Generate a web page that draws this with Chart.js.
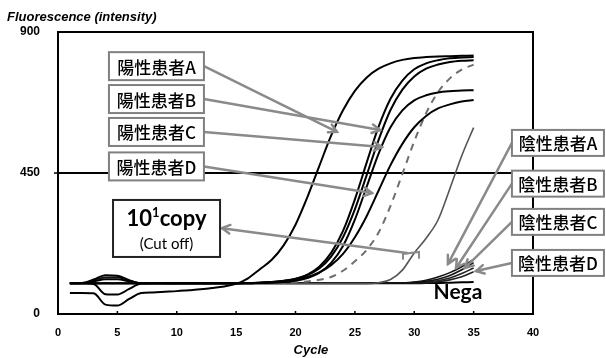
<!DOCTYPE html>
<html>
<head>
<meta charset="utf-8">
<script src="https://cdn.jsdelivr.net/npm/chart.js@4/dist/chart.umd.min.js"></script>
<style>
  html, body { margin: 0; padding: 0; background: #fff; }
  canvas { display: block; }
</style>
</head>
<body>
<canvas id="c" width="606" height="358"></canvas>
<script>
// Real-time PCR amplification curves: fluorescence per cycle
const cycles = [1,2,3,4,5,6,7,8,9,10,11,12,13,14,15,16,17,18,19,20,21,22,23,24,25,26,27,28,29,30,31,32,33,34,35];

const posA = [67,67,66,30,27,48,67,69,71,73,76,79,83,88,96,114,143,173,219,285,373,472,569,650,712,755,783,800,811,817,820,822,823,824,825];
const posB = [98,98,96,63,62,80,97,98,98,98,98,98,98,98,98,99,100,102,106,113,126,151,195,265,366,484,598,687,745,781,800,810,816,819,820];
const posB2 = [98,99,110,124,122,108,98,98,98,97,97,97,98,98,98,99,100,102,105,112,124,145,183,245,334,444,556,651,716,758,783,796,804,808,810];
const posC = [98,98,104,111,111,104,98,98,98,99,99,99,98,98,98,98,99,100,102,106,115,131,163,217,301,407,512,596,650,682,698,707,711,713,714];
const posD = [98,98,98,98,98,98,98,98,98,98,98,98,98,98,98,98,100,102,105,110,118,133,156,192,245,313,394,475,543,596,632,656,669,678,683];
const dilution = [98,98,98,98,98,98,98,98,98,98,98,98,98,98,98,98,98,99,100,101,104,109,118,138,168,205,260,345,447,551,641,708,752,780,796];
const cutoff10 = [97,97,97,97,97,97,97,97,97,97,97,97,97,97,97,97,97,97,97,97,97,97,97,97,97,97,100,110,140,195,242,300,400,505,595];
const negA = [98,99,107,117,117,107,98,98,98,98,98,98,98,98,98,98,98,98,98,98,98,98,98,98,98,98,98,98,99,102,108,118,132,151,174];
const negB = [98,98,98,98,98,98,98,98,98,98,98,98,98,98,98,98,98,98,98,98,98,98,98,98,98,98,98,98,98,100,104,111,123,141,164];
const negC = [99,99,99,99,99,99,99,99,99,99,99,99,99,99,99,99,99,99,99,99,99,99,99,99,99,99,99,99,99,100,102,106,115,129,147];
const negD = [99,99,99,99,99,99,99,99,99,99,99,99,99,99,99,99,99,99,99,99,99,99,99,99,99,99,99,99,99,99,100,103,109,119,135];
const nega = [98,98,98,98,98,98,98,98,98,98,98,98,98,98,98,98,98,98,98,98,98,98,98,98,98,98,98,98,98,98,99,99,100,101,102];

const thresholdValue = 450;
const xTicks = [0,5,10,15,20,25,30,35,40];
const yTicks = [0,450,900];

const SANS = '"Liberation Sans", Arial, sans-serif';
const CJK = '"Noto Sans CJK JP", "Noto Sans CJK SC", sans-serif';
const CAL = 'Lato, "Open Sans", sans-serif';

const toPoints = vals => vals.map((v, i) => ({ x: cycles[i], y: v }));

function curve(label, vals, color, width, dash) {
  return {
    label, data: toPoints(vals),
    borderColor: color, borderWidth: width, borderDash: dash || [],
    pointRadius: 0, fill: false, cubicInterpolationMode: 'monotone'
  };
}

const datasets = [
  curve('陽性患者A', posA, '#000', 2),
  curve('陽性患者B', posB, '#000', 2),
  curve('陽性', posB2, '#000', 2),
  curve('陽性患者C', posC, '#000', 2),
  curve('陽性患者D', posD, '#000', 2),
  curve('希釈系列', dilution, '#6e6e6e', 2, [7, 6]),
  curve('10¹copy', cutoff10, '#555', 1.6),
  curve('陰性患者A', negA, '#111', 1.6),
  curve('陰性患者B', negB, '#111', 1.6),
  curve('陰性患者C', negC, '#222', 1.6),
  curve('陰性患者D', negD, '#222', 1.6),
  curve('Nega', nega, '#000', 2),
  {
    label: 'threshold',
    data: [{ x: 0, y: thresholdValue }, { x: 40, y: thresholdValue }],
    borderColor: '#000', borderWidth: 2, pointRadius: 0, fill: false
  }
];

// Call-out boxes (anchor in cycle / intensity units, arrow tip on the curve)
const leftBoxes = [
  { text: '陽性患者A', at: [8.29, 791], tip: [23.49, 581] },
  { text: '陽性患者B', at: [8.29, 686], tip: [27.12, 587] },
  { text: '陽性患者C', at: [8.29, 581], tip: [27.28, 533] },
  { text: '陽性患者D', at: [8.29, 471], tip: [26.44, 386] }
];
const rightBoxes = [
  { text: '陰性患者A', at: [42.1, 546], tip: [32.84, 160] },
  { text: '陰性患者B', at: [42.1, 416], tip: [33.52, 147] },
  { text: '陰性患者C', at: [42.1, 294], tip: [34.27, 147] },
  { text: '陰性患者D', at: [42.1, 163], tip: [35.2, 137] }
];
const copyBox = { at: [9.14, 273], tail: [29.39, 195], tip: [13.81, 274] };
const negaLabel = [33.68, 70];

function arrow(ctx, x1, y1, x2, y2) {
  ctx.beginPath();
  ctx.moveTo(x1, y1);
  ctx.lineTo(x2, y2);
  ctx.stroke();
  const ang = Math.atan2(y2 - y1, x2 - x1);
  const L = 9, spread = 0.5;
  ctx.beginPath();
  ctx.moveTo(x2 - L * Math.cos(ang - spread), y2 - L * Math.sin(ang - spread));
  ctx.lineTo(x2, y2);
  ctx.lineTo(x2 - L * Math.cos(ang + spread), y2 - L * Math.sin(ang + spread));
  ctx.stroke();
}

const overlay = {
  id: 'overlay',
  afterDatasetsDraw(chart) {
    const { ctx, chartArea: a, scales: { x, y } } = chart;
    const P = d => [x.getPixelForValue(d[0]), y.getPixelForValue(d[1])];
    ctx.save();

    // plot frame
    ctx.strokeStyle = '#000';
    ctx.lineWidth = 2;
    ctx.strokeRect(a.left, a.top, a.right - a.left, a.bottom - a.top);

    // small tick marks
    ctx.lineWidth = 1.5;
    xTicks.slice(1, -1).forEach(v => {
      const px = x.getPixelForValue(v);
      ctx.beginPath(); ctx.moveTo(px, a.bottom); ctx.lineTo(px, a.bottom - 3); ctx.stroke();
    });
    const ty = y.getPixelForValue(thresholdValue);
    ctx.beginPath(); ctx.moveTo(a.left - 4, ty); ctx.lineTo(a.left, ty); ctx.stroke();

    // arrows
    ctx.strokeStyle = '#8a8a8a';
    ctx.lineWidth = 2.5;
    ctx.lineCap = 'round';
    const LW = 95, LH = 28, RW = 92, RH = 26;
    leftBoxes.forEach(b => {
      const [cx, cy] = P(b.at), [tx, tyy] = P(b.tip);
      arrow(ctx, cx + LW / 2, cy, tx, tyy);
    });
    rightBoxes.forEach(b => {
      const [cx, cy] = P(b.at), [tx, tyy] = P(b.tip);
      arrow(ctx, cx - RW / 2, cy, tx, tyy);
    });
    const [bx, by] = P(copyBox.tail), [cx2, cy2] = P(copyBox.tip);
    arrow(ctx, bx, by, cx2, cy2);
    // cut-off bracket on the 10 copy curve
    ctx.lineWidth = 2;
    ctx.beginPath();
    ctx.moveTo(bx - 4, by + 6); ctx.lineTo(bx - 4, by + 1);
    ctx.lineTo(bx + 12, by - 1); ctx.lineTo(bx + 12, by + 5);
    ctx.stroke();

    // boxes
    ctx.lineCap = 'butt';
    const box = (cx, cy, w, h, stroke, lw) => {
      ctx.fillStyle = '#fff';
      ctx.fillRect(cx - w / 2, cy - h / 2, w, h);
      ctx.strokeStyle = stroke; ctx.lineWidth = lw;
      ctx.strokeRect(cx - w / 2, cy - h / 2, w, h);
    };
    ctx.textAlign = 'center';
    ctx.textBaseline = 'middle';
    leftBoxes.forEach(b => {
      const [cx, cy] = P(b.at);
      box(cx, cy, LW, LH, '#808080', 2);
      ctx.fillStyle = '#000'; ctx.font = `500 17px ${CJK}`;
      ctx.fillText(b.text, cx, cy + 1);
    });
    rightBoxes.forEach(b => {
      const [cx, cy] = P(b.at);
      box(cx, cy, RW, RH, '#808080', 2);
      ctx.fillStyle = '#000'; ctx.font = `500 17px ${CJK}`;
      ctx.fillText(b.text, cx, cy + 1);
    });

    // 10^1 copy box
    const [kx, ky] = P(copyBox.at);
    box(kx, ky, 107, 57, '#222', 2);
    ctx.fillStyle = '#000';
    ctx.textAlign = 'left';
    ctx.textBaseline = 'alphabetic';
    ctx.font = `bold 22px ${CAL}`; const w1 = ctx.measureText('10').width, w3 = ctx.measureText('copy').width;
    ctx.font = `bold 13px ${CAL}`; const w2 = ctx.measureText('1').width;
    let sx = kx - (w1 + w2 + w3) / 2;
    const base = ky - 2;
    ctx.font = `bold 22px ${CAL}`; ctx.fillText('10', sx, base); sx += w1;
    ctx.font = `bold 13px ${CAL}`; ctx.fillText('1', sx, base - 9); sx += w2;
    ctx.font = `bold 22px ${CAL}`; ctx.fillText('copy', sx, base);
    ctx.textAlign = 'center';
    ctx.textBaseline = 'middle';
    ctx.font = `15px ${CAL}`;
    ctx.fillText('(Cut off)', kx, ky + 16);

    // Nega label
    const [nx, ny] = P(negaLabel);
    ctx.font = `bold 21px ${CAL}`;
    ctx.fillText('Nega', nx, ny);

    // axis titles
    ctx.font = `italic bold 13px ${SANS}`;
    ctx.textAlign = 'left';
    ctx.fillText('Fluorescence (intensity)', 7, 17);
    ctx.textAlign = 'center';
    ctx.fillText('Cycle', x.getPixelForValue(21.3), 350);
    ctx.restore();
  }
};

new Chart(document.getElementById('c'), {
  type: 'line',
  data: { datasets },
  options: {
    responsive: false,
    animation: false,
    devicePixelRatio: 1,
    layout: { padding: { left: 0, right: 73, top: 32, bottom: 0 } },
    plugins: { legend: { display: false }, tooltip: { enabled: false } },
    scales: {
      x: {
        type: 'linear', min: 0, max: 40,
        afterBuildTicks: s => { s.ticks = xTicks.map(v => ({ value: v })); },
        afterFit: s => { s.height = 44; },
        grid: { display: false, drawTicks: false },
        border: { display: false },
        ticks: { color: '#000', padding: 12, maxRotation: 0, font: { family: SANS, size: 11, weight: 'bold' } }
      },
      y: {
        type: 'linear', min: 0, max: 900,
        afterBuildTicks: s => { s.ticks = yTicks.map(v => ({ value: v })); },
        afterFit: s => { s.width = 58; },
        grid: { display: false, drawTicks: false },
        border: { display: false },
        ticks: { color: '#000', padding: 18, font: { family: SANS, size: 12, weight: 'bold' } }
      }
    }
  },
  plugins: [overlay]
});
</script>
</body>
</html>
